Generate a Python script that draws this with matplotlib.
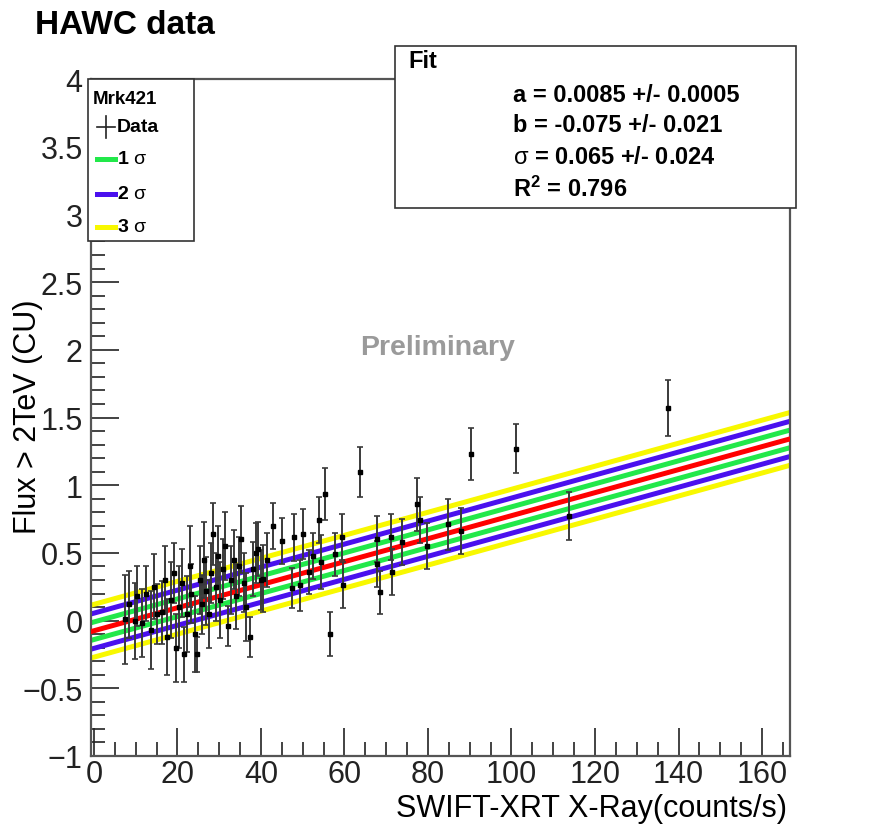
import matplotlib
matplotlib.use("Agg")
import matplotlib.pyplot as plt
from matplotlib.lines import Line2D
from matplotlib.patches import Rectangle
from matplotlib.ticker import MultipleLocator, FuncFormatter
import numpy as np

plt.rcParams['font.family'] = ['Liberation Sans', 'DejaVu Sans']
plt.rcParams['mathtext.fontset'] = 'custom'
plt.rcParams['mathtext.rm'] = 'Liberation Sans:bold'
plt.rcParams['mathtext.bf'] = 'Liberation Sans:bold'
plt.rcParams['mathtext.it'] = 'Liberation Sans'

# ---- data ----
x_rate = [7.4, 8.3, 9.8, 10.4, 11.6, 12.4, 13.6, 14.3, 15.2, 16.3,
          17.0, 17.6, 18.4, 19.2, 19.6, 20.3, 21.0, 21.5, 22.2, 22.9,
          23.3, 24.2, 24.6, 25.3, 25.8, 26.3, 26.9, 27.5, 28.0, 28.6,
          29.2, 29.8, 30.3, 30.9, 31.5, 32.2, 32.8, 33.5, 34.1, 34.8,
          35.3, 35.9, 36.5, 37.4, 38.0, 38.7, 39.4, 40.0, 40.6, 41.5,
          42.9, 45.1, 47.9, 47.5, 50.0, 49.3, 52.5, 51.5, 54.0, 54.4,
          55.3, 57.7, 59.4, 59.6, 56.6, 63.7, 67.8, 67.8, 68.4, 71.1,
          71.5, 73.7, 77.4, 78.1, 79.8, 84.9, 87.9, 90.3, 101.1, 113.8,
          137.5]
flux = [0.01, 0.12, 0.00, 0.18, -0.02, 0.20, -0.07, 0.25, 0.05, 0.06,
        0.30, -0.12, 0.15, 0.35, -0.20, 0.10, 0.28, -0.25, 0.05, 0.40,
        0.20, -0.10, -0.25, 0.30, 0.12, 0.45, 0.22, 0.05, 0.35, 0.64,
        0.25, 0.48, 0.15, 0.38, 0.55, -0.04, 0.30, 0.45, 0.18, 0.40,
        0.60, 0.28, 0.10, -0.12, 0.38, 0.50, 0.53, 0.30, 0.31, 0.45,
        0.70, 0.59, 0.615, 0.24, 0.64, 0.26, 0.48, 0.36, 0.745, 0.43,
        0.935, 0.49, 0.615, 0.26, -0.10, 1.10, 0.60, 0.42, 0.21, 0.615,
        0.357, 0.58, 0.86, 0.74, 0.55, 0.71, 0.66, 1.23, 1.27, 0.77,
        1.57]
flux_err = [0.33, 0.25, 0.28, 0.22, 0.25, 0.20, 0.29, 0.24, 0.22, 0.23,
            0.25, 0.28, 0.28, 0.22, 0.25, 0.30, 0.25, 0.20, 0.28, 0.30,
            0.22, 0.28, 0.13, 0.25, 0.22, 0.28, 0.25, 0.25, 0.22, 0.23,
            0.25, 0.22, 0.28, 0.22, 0.25, 0.15, 0.25, 0.22, 0.24, 0.22,
            0.25, 0.22, 0.25, 0.15, 0.20, 0.22, 0.20, 0.22, 0.25, 0.20,
            0.17, 0.17, 0.175, 0.15, 0.185, 0.19, 0.17, 0.16, 0.17, 0.20,
            0.19, 0.16, 0.17, 0.17, 0.165, 0.185, 0.17, 0.17, 0.16, 0.17,
            0.17, 0.17, 0.196, 0.17, 0.17, 0.185, 0.17, 0.19, 0.18, 0.177,
            0.21]

fit_a, fit_b, fit_sigma = 0.0085, -0.075, 0.065
band_n = [3, 2, 1]
band_colors = ['#f8f800', '#4a10ee', '#22e84a']
fit_color = '#ff0000'

x_lim = (-0.7, 166.7)
y_lim = (-1.0, 4.0)

# ---- figure ----
W, H = 877, 828
fig = plt.figure(figsize=(W / 100, H / 100), dpi=100)
ax = fig.add_axes([91 / W, 1 - 757 / H, (790 - 91) / W, (757 - 80) / H])

xx = np.linspace(x_lim[0], x_lim[1], 200)
line_y = fit_a * xx + fit_b
for n, c in zip(band_n, band_colors):
    ax.plot(xx, line_y + n * fit_sigma, color=c, lw=3.6, zorder=2)
    ax.plot(xx, line_y - n * fit_sigma, color=c, lw=3.6, zorder=2)
ax.plot(xx, line_y, color=fit_color, lw=3.6, zorder=3)

ax.errorbar(x_rate, flux, yerr=flux_err, fmt='s', color='black', ms=3.5,
            ecolor='#3a3a3a', elinewidth=1.4, capsize=2.5, capthick=1.2,
            zorder=5)

ax.set_xlim(*x_lim)
ax.set_ylim(*y_lim)
ax.xaxis.set_major_locator(MultipleLocator(20))
ax.xaxis.set_minor_locator(MultipleLocator(5))
ax.yaxis.set_major_locator(MultipleLocator(0.5))
ax.yaxis.set_minor_locator(MultipleLocator(0.1))
ax.tick_params(which='both', direction='in', top=False, right=False,
               labelsize=22, colors='#222222')
ax.tick_params(which='major', length=20, width=1.2)
ax.tick_params(which='minor', length=10, width=1.2)
ax.tick_params(axis='y', pad=6)
ax.tick_params(axis='x', pad=2)
ax.yaxis.set_major_formatter(FuncFormatter(
    lambda v, p: ('%g' % v).replace('-', '\u2212')))
for s in ax.spines.values():
    s.set_color('#555555')
    s.set_linewidth(1.6)

fig.text(787 / W, 1 - 809 / H, 'SWIFT-XRT X-Ray(counts/s)', ha='right',
         va='center', fontsize=22)
fig.text(28 / W, 1 - 417 / H, 'Flux > 2TeV (CU)', ha='center', va='center',
         rotation=90, fontsize=22)
fig.text(35 / W, 1 - 26 / H, 'HAWC data', ha='left', va='center',
         fontsize=24, fontweight='bold')
fig.text(438 / W, 1 - 348 / H, 'Preliminary', ha='center', va='center',
         fontsize=20.5, fontweight='bold', color='#9a9a9a')

# ---- fit box ----
fig.patches.append(Rectangle((395 / W, 1 - 209 / H), (796 - 395) / W,
                             (209 - 47) / H, transform=fig.transFigure,
                             facecolor='white', edgecolor='#333333', lw=1.2,
                             zorder=10))
fig.text(408 / W, 1 - 62 / H, 'Fit', ha='left', va='center', fontsize=17,
         fontweight='bold', zorder=11)
fit_lines = ['a = 0.0085 +/- 0.0005', 'b = -0.075 +/- 0.021',
             r'$\sigma$ = 0.065 +/- 0.024', r'R$^{2}$ = 0.796']
fit_y = [95, 126, 158, 189]
for t, yy in zip(fit_lines, fit_y):
    fig.text(513 / W, 1 - yy / H, t, ha='left', va='center', fontsize=17,
             fontweight='bold', zorder=11)

# ---- legend box ----
fig.patches.append(Rectangle((88 / W, 1 - 242 / H), (194 - 88) / W,
                             (242 - 80) / H, transform=fig.transFigure,
                             facecolor='white', edgecolor='#333333', lw=1.2,
                             zorder=10))
fig.text(93 / W, 1 - 99 / H, 'Mrk421', ha='left', va='center', fontsize=13.5,
         fontweight='bold', zorder=11)
leg_labels = ['Data', r'1 $\sigma$', r'2 $\sigma$', r'3 $\sigma$']
leg_colors = ['#222222', '#22e84a', '#4a10ee', '#f8f800']
leg_y = [128, 160, 195, 228]
for lab, c, yy in zip(leg_labels, leg_colors, leg_y):
    yf = 1 - yy / H
    if lab == 'Data':
        fig.add_artist(Line2D([97 / W, 115 / W], [yf, yf], color=c, lw=1.2,
                              transform=fig.transFigure, zorder=11))
        fig.add_artist(Line2D([106 / W, 106 / W], [yf - 11 / H, yf + 11 / H],
                              color=c, lw=1.2, transform=fig.transFigure,
                              zorder=11))
    else:
        fig.add_artist(Line2D([97 / W, 115 / W], [yf, yf], color=c, lw=3.6,
                              transform=fig.transFigure, zorder=11))
    fig.text(117 / W, yf, lab, ha='left', va='center', fontsize=14,
             fontweight='bold', zorder=11)

fig.savefig('out.png', dpi=100)
